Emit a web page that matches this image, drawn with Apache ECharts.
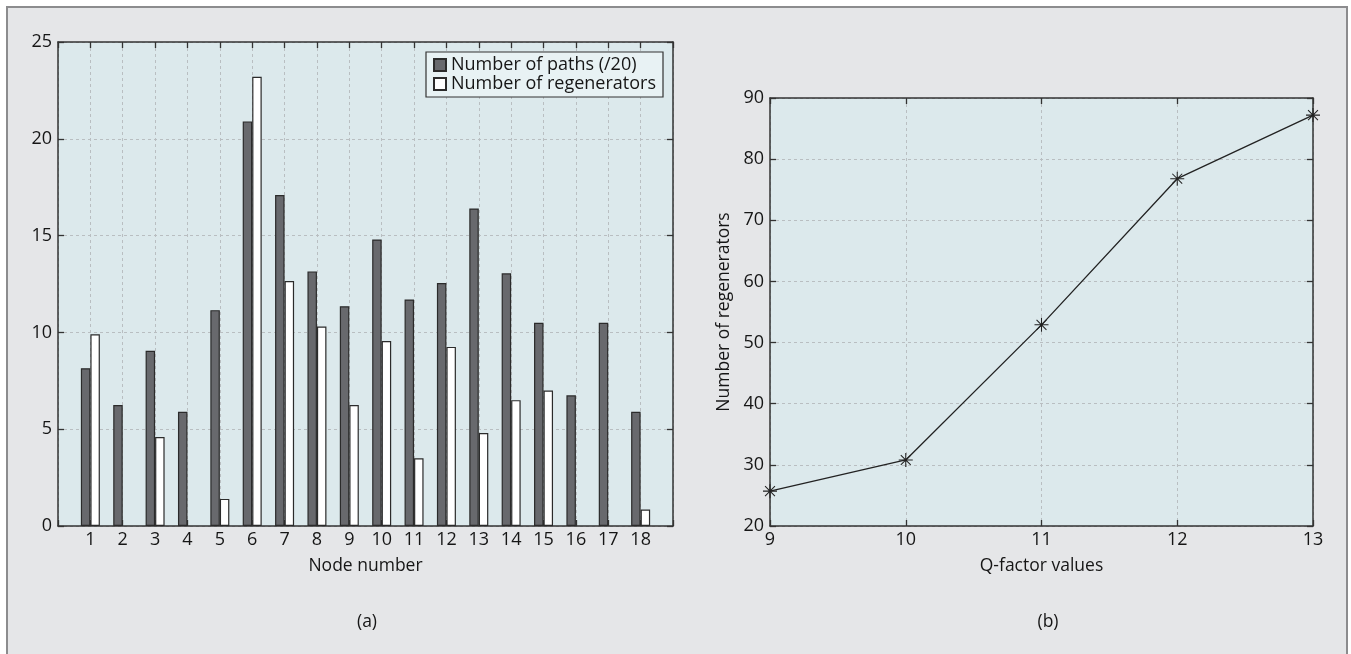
<!DOCTYPE html>
<html>
<head>
<meta charset="utf-8">
<script src="https://cdn.jsdelivr.net/npm/echarts@6/dist/echarts.min.js"></script>
<style>
html,body{margin:0;padding:0;background:#ffffff;}
#chart{width:1351px;height:654px;}
</style>
</head>
<body>
<div id="chart"></div>
<script>
// ---- data ----
const nodes = [1, 2, 3, 4, 5, 6, 7, 8, 9, 10, 11, 12, 13, 14, 15, 16, 17, 18];
const pathsPer20 = [8.15, 6.25, 9.05, 5.9, 11.15, 20.9, 17.1, 13.15, 11.35, 14.8, 11.7, 12.55, 16.4, 13.05, 10.5, 6.75, 10.5, 5.9];
const regenerators = [9.9, 0, 4.6, 0, 1.4, 23.2, 12.65, 10.3, 6.25, 9.55, 3.5, 9.25, 4.8, 6.5, 7.0, 0, 0, 0.85];
const qFactor = [9, 10, 11, 12, 13];
const qRegenerators = [25.7, 30.8, 52.9, 76.8, 87.2];

const seriesNames = ['Number of paths (/20)', 'Number of regenerators'];
const leftXName = 'Node number';
const rightXName = 'Q-factor values';
const rightYName = 'Number of regenerators';
const panelLabels = ['(a)', '(b)'];

// ---- style ----
const FONT = '"Open Sans", "Noto Sans", sans-serif';
const FS = 18;
const NFS = 17.5;
const TXT = '#161616';
const AX = '#333';
const plotBg = '#dce9ec';
const gridLine = { show: true, lineStyle: { color: '#b9bec1', type: [3, 3], width: 1 } };
const star = 'path://M-0.6,-8 L0.6,-8 L0.6,8 L-0.6,8 Z M-8,-0.6 L8,-0.6 L8,0.6 L-8,0.6 Z ' +
  'M-6.08,-5.24 L-5.24,-6.08 L6.08,5.24 L5.24,6.08 Z M5.24,-6.08 L6.08,-5.24 L-5.24,6.08 L-6.08,5.24 Z';

function baseAxis(extra) {
  return Object.assign({
    axisLine: { show: true, onZero: false, lineStyle: { color: AX, width: 1.5 } },
    axisTick: { show: true, inside: true, length: 6, lineStyle: { color: AX, width: 1.3 } },
    axisLabel: { color: TXT, fontSize: FS, fontFamily: FONT },
    splitLine: { show: false }
  }, extra);
}
const nz = v => (v === 0 ? null : v);

const chart = echarts.init(document.getElementById('chart'), null, { renderer: 'canvas' });

const option = {
  backgroundColor: '#ffffff',
  animation: false,
  graphic: [
    { type: 'rect', z: -10, shape: { x: 7, y: 7, width: 1340, height: 660 },
      style: { fill: '#e5e6e8', stroke: '#8c8c8e', lineWidth: 2 } },
    { type: 'text', x: 367, y: 622, style: { text: panelLabels[0], font: NFS + 'px ' + FONT, fill: TXT, align: 'center', verticalAlign: 'middle' } },
    { type: 'text', x: 1048, y: 622, style: { text: panelLabels[1], font: NFS + 'px ' + FONT, fill: TXT, align: 'center', verticalAlign: 'middle' } }
  ],
  legend: {
    data: seriesNames,
    orient: 'vertical',
    right: 688,
    top: 52,
    backgroundColor: '#e8f2f4',
    borderColor: AX,
    borderWidth: 1.2,
    padding: [4, 7, 4, 7],
    itemGap: 1,
    itemWidth: 12,
    itemHeight: 12,
    icon: 'rect',
    textStyle: { color: TXT, fontSize: 18, fontFamily: FONT }
  },
  grid: [
    { left: 58, right: 678, top: 42, bottom: 128, show: true, backgroundColor: plotBg, borderWidth: 0 },
    { left: 770, right: 38, top: 98, bottom: 128, show: true, backgroundColor: plotBg, borderWidth: 0 }
  ],
  xAxis: [
    baseAxis({ type: 'value', gridIndex: 0, position: 'bottom', min: 0, max: 19, interval: 1,
      splitLine: gridLine,
      axisLabel: { color: TXT, fontSize: FS, fontFamily: FONT, margin: 5,
        formatter: v => (nodes.indexOf(v) >= 0 ? String(v) : '') },
      name: leftXName, nameLocation: 'middle', nameGap: 31,
      nameTextStyle: { color: TXT, fontSize: NFS, fontFamily: FONT } }),
    baseAxis({ type: 'value', gridIndex: 0, position: 'top', min: 0, max: 19, interval: 1,
      axisLabel: { show: false } }),
    baseAxis({ type: 'value', gridIndex: 1, position: 'bottom', min: 9, max: 13, interval: 1,
      splitLine: gridLine,
      axisLabel: { color: TXT, fontSize: FS, fontFamily: FONT, margin: 5 },
      name: rightXName, nameLocation: 'middle', nameGap: 31,
      nameTextStyle: { color: TXT, fontSize: NFS, fontFamily: FONT } }),
    baseAxis({ type: 'value', gridIndex: 1, position: 'top', min: 9, max: 13, interval: 1,
      axisLabel: { show: false } })
  ],
  yAxis: [
    baseAxis({ type: 'value', gridIndex: 0, position: 'left', min: 0, max: 25, interval: 5,
      splitLine: gridLine,
      axisLabel: { color: TXT, fontSize: FS, fontFamily: FONT, margin: 6 } }),
    baseAxis({ type: 'value', gridIndex: 0, position: 'right', min: 0, max: 25, interval: 5,
      axisLabel: { show: false } }),
    baseAxis({ type: 'value', gridIndex: 1, position: 'left', min: 20, max: 90, interval: 10,
      splitLine: gridLine,
      axisLabel: { color: TXT, fontSize: FS, fontFamily: FONT, margin: 6 },
      name: rightYName, nameLocation: 'middle', nameGap: 37,
      nameTextStyle: { color: TXT, fontSize: NFS, fontFamily: FONT } }),
    baseAxis({ type: 'value', gridIndex: 1, position: 'right', min: 20, max: 90, interval: 10,
      axisLabel: { show: false } })
  ],
  series: [
    {
      name: seriesNames[0], type: 'bar', xAxisIndex: 0, yAxisIndex: 0,
      barWidth: 9.5, barGap: '0%',
      itemStyle: { color: '#68696d', borderColor: '#2b2b2b', borderWidth: 1.2 },
      data: nodes.map((n, i) => [n, nz(pathsPer20[i])])
    },
    {
      name: seriesNames[1], type: 'bar', xAxisIndex: 0, yAxisIndex: 0,
      barWidth: 9.5, barGap: '0%',
      itemStyle: { color: '#ffffff', borderColor: '#2b2b2b', borderWidth: 1.2 },
      data: nodes.map((n, i) => [n, nz(regenerators[i])])
    },
    {
      name: 'Q', type: 'line', xAxisIndex: 2, yAxisIndex: 2,
      symbol: star, symbolSize: 14, showSymbol: true,
      lineStyle: { color: '#222', width: 1.3 },
      itemStyle: { color: '#222' },
      clip: false,
      z: 5,
      data: qFactor.map((q, i) => [q, qRegenerators[i]])
    }
  ]
};
chart.setOption(option);
</script>
</body>
</html>
